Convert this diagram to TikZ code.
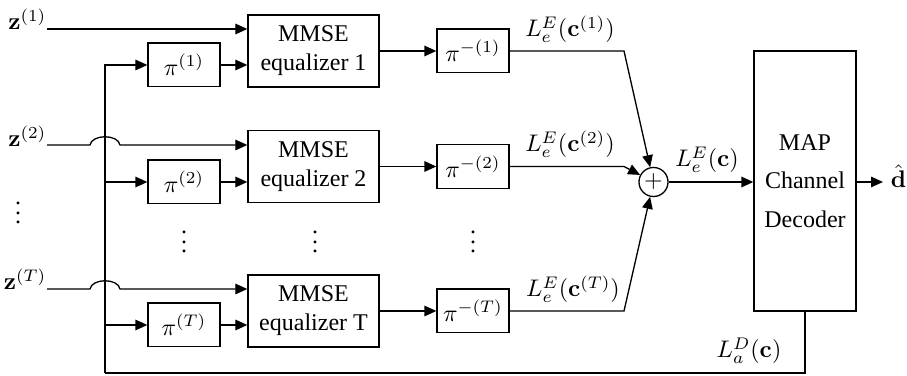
\documentclass[tikz,border=0pt]{standalone}
\usepackage[no-math]{fontspec}
\setmainfont{Liberation Serif}
\usetikzlibrary{arrows.meta,calc}
\begin{document}
\begin{tikzpicture}[x=0.41667pt,y=-0.41667pt,
  line width=0.55pt,
  arr/.style={-{Triangle[length=5pt,width=4.4pt]}},
  blk/.style={draw,inner sep=0pt,align=center},
  eqbox/.style={blk,minimum width=54.6pt,minimum height=30pt},
  perm/.style={blk,minimum width=30pt,minimum height=18.2pt},
  lbl/.style={anchor=base,inner sep=0pt},
  zlbl/.style={anchor=base east,inner sep=0pt},
  dotsn/.style={anchor=base,inner sep=0pt},
]
\useasboundingbox (0,0) rectangle (907,376);
% equalizers
\node[eqbox] (m1) at (313.5,51) {MMSE\\equalizer 1};
\node[eqbox] (m2) at (313.5,166.5) {MMSE\\equalizer 2};
\node[eqbox] (mT) at (313.5,311) {MMSE\\equalizer T};
% interleavers
\node[perm] (p1) at (184,65) {$\pi^{(1)}$};
\node[perm] (p2) at (184,182) {$\pi^{(2)}$};
\node[perm] (pT) at (184,325) {$\pi^{(T)}$};
% deinterleavers
\node[perm] (q1) at (473,51) {$\pi^{-(1)}$};
\node[perm] (q2) at (473,166.5) {$\pi^{-(2)}$};
\node[perm] (qT) at (473,311) {$\pi^{-(T)}$};
% sum and decoder
\node[draw,circle,minimum size=12.1pt,inner sep=0pt] (sum) at (653.5,182) {$+$};
\node[blk,minimum width=42.5pt,minimum height=108.3pt,font=\fontsize{10}{16}\selectfont] (map) at (805,181) {MAP\\Channel\\Decoder};
\node[anchor=base west,inner xsep=3pt,inner ysep=0pt] (dhat) at (883,188) {$\hat{\mathbf{d}}$};
% inputs
\coordinate (s1) at (47,29);
\coordinate (s2) at (47,145);
\coordinate (sT) at (47,289);
\node[zlbl] (z1) at (47,30) {$\mathbf{z}^{(1)}$};
\node[zlbl] (z2) at (47,147) {$\mathbf{z}^{(2)}$};
\node[zlbl] (zT) at (47,290) {$\mathbf{z}^{(T)}$};
\coordinate (h2a) at (90,145);
\coordinate (h2b) at (120,145);
\coordinate (hTa) at (90,289);
\coordinate (hTb) at (120,289);
\draw[arr] (s1) -- (s1 -| m1.west);
\draw[arr] (s2) -- (h2a) .. controls +(2,-11) and +(-2,-11) .. (h2b) -- (s2 -| m2.west);
\draw[arr] (sT) -- (hTa) .. controls +(2,-11) and +(-2,-11) .. (hTb) -- (sT -| mT.west);
% interleaver to equalizer
\draw[arr] (p1.east) -- (p1.east -| m1.west);
\draw[arr] (p2.east) -- (p2.east -| m2.west);
\draw[arr] (pT.east) -- (pT.east -| mT.west);
% equalizer to deinterleaver
\draw[arr] (m1.east) -- (q1.west);
\draw[arr] (m2.east) -- (q2.west);
\draw[arr] (mT.east) -- (qT.west);
% deinterleaver to sum
\coordinate (c1) at (624,51);
\coordinate (c2) at (624,166.5);
\coordinate (cT) at (624,311);
\draw[arr] (q1.east) -- (c1) -- (sum);
\draw[arr] (q2.east) -- (c2) -- (sum);
\draw[arr] (qT.east) -- (cT) -- (sum);
\node[lbl] (l1) at (570,37) {$L_e^E(\mathbf{c}^{(1)})$};
\node[lbl] (l2) at (570,152) {$L_e^E(\mathbf{c}^{(2)})$};
\node[lbl] (lT) at (573,297) {$L_e^E(\mathbf{c}^{(T)})$};
% sum to decoder
\draw[arr] (sum.east) -- (sum.east -| map.west);
\node[lbl] (lc) at (707,167) {$L_e^E(\mathbf{c})$};
\draw[arr] (map.east |- sum) -- (dhat.west |- sum);
% feedback
\coordinate (fb) at (105,373);
\draw (map.south) |- (fb);
\draw[arr] (fb) |- (p1.west);
\draw[arr] (fb |- p2.west) -- (p2.west);
\draw[arr] (fb |- pT.west) -- (pT.west);
\node[lbl] (ld) at (749,358) {$L_a^D(\mathbf{c})$};
% dots
\node[dotsn] (v0) at (18,224) {$\vdots$};
\node[dotsn] (v1) at (184,253) {$\vdots$};
\node[dotsn] (v2) at (315,253) {$\vdots$};
\node[dotsn] (v3) at (473,253) {$\vdots$};
\end{tikzpicture}
\end{document}
